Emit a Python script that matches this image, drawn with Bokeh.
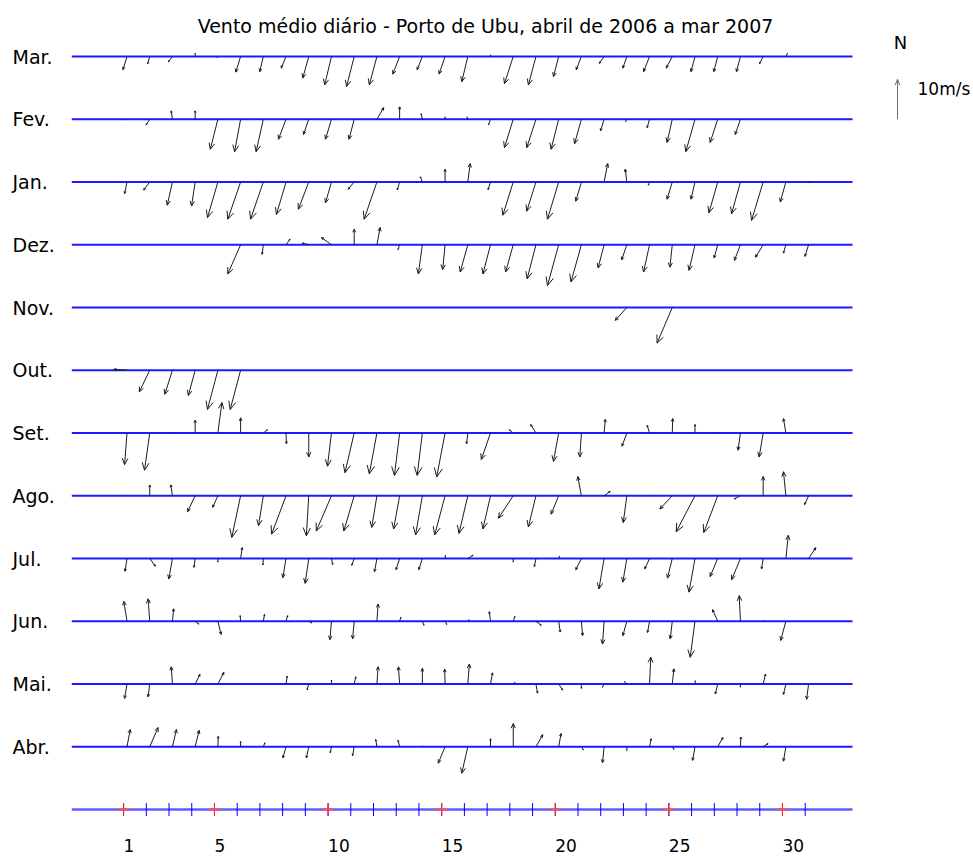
import numpy as np
from bokeh.plotting import figure
from bokeh.models import Range1d
from bokeh.embed import file_html
from bokeh.resources import INLINE
from bokeh.core.properties import value

# ---------------------------------------------------------------------------
# Daily mean wind at Porto de Ubu, u (east) and v (north) components in m/s.
# None = no record for that day.
# ---------------------------------------------------------------------------
N_ = None

abr_u = [0.8, 2.1, 1.0, 1.0, 0.1, 0.0, 0.4, -0.8, -0.6, -0.3, -0.4, -0.3, -0.4, 0.0, -1.7, -1.5,
         0.0, 0.0, 1.7, 0.6, 0.5, -0.4, 0.0, 0.4, 0.4, -0.6, 1.3, 0.1, 1.2, -0.6, N_]
abr_v = [4.3, 4.8, 4.3, 4.1, 2.6, 1.3, 1.0, -2.8, -2.8, -1.5, -2.2, 1.8, 1.6, 0.2, -4.1, -6.6,
         2.0, 5.8, 3.0, 3.3, -0.8, -4.0, -0.9, 2.0, -0.7, -3.4, 2.3, 2.4, 0.8, -3.6, N_]

mai_u = [-0.6, -0.4, -0.3, 1.2, 1.5, N_, N_, 0.3, -0.4, 0.0, 0.4, 0.3, -0.3, 0.0, -0.1, 0.4,
         0.5, 0.4, 0.4, 1.0, 0.0, -0.4, -0.6, 0.3, 0.4, 0.1, -0.6, 0.0, 0.6, -0.6, -0.5]
mai_v = [-3.6, -3.2, 4.3, 2.4, 2.9, N_, N_, 2.0, -1.5, 1.0, 1.8, 4.3, 4.3, 3.9, 3.7, 5.0,
         2.8, 0.4, -2.3, -1.5, -1.1, -0.8, 0.6, 6.7, 3.8, 0.8, -2.5, -0.8, 2.5, -2.6, -3.8]

jun_u = [-0.8, -0.4, 0.3, 0.9, 0.8, -0.1, 0.3, 0.4, 0.8, -0.4, -0.4, 0.3, 0.3, 0.4, 0.4, 0.3,
         -0.3, 0.4, 1.3, 0.4, 0.3, -0.4, -1.0, -0.5, -0.5, -1.2, -1.3, -0.3, 0.1, -1.3, N_]
jun_v = [5.0, 5.6, 3.1, -0.7, -3.3, 1.4, 1.7, 1.4, -0.4, -4.6, -4.4, 4.3, 1.0, -1.0, -0.8, 0.4,
         2.4, 1.2, -1.0, -2.7, -3.6, -5.7, -3.6, -2.8, -4.4, -9.0, 2.9, 6.4, 0.2, -4.8, N_]

jul_u = [-0.5, 1.4, -0.9, -0.3, 0.0, 0.4, -0.1, -0.8, -0.9, 0.3, -0.6, -0.6, -0.9, -0.9, 0.1, 1.3,
         N_, 0.0, -0.4, 0.2, -1.4, -1.3, -1.0, -1.2, -1.2, -1.5, -1.9, -2.2, -0.4, 0.6, 1.8]
jul_v = [-3.2, -1.9, -5.1, -2.2, -0.9, 2.7, -1.6, -4.8, -6.2, -1.5, -1.7, -3.3, -2.8, -2.8, 0.8, 0.8,
         N_, -0.9, -2.0, 0.6, -2.8, -7.6, -5.9, -2.6, -4.9, -8.4, -4.5, -5.3, -2.6, 5.8, 2.7]

ago_u = [0.0, 0.0, -0.4, -1.9, -1.3, -2.2, -1.2, -3.6, -0.6, -3.8, -2.6, -1.3, -1.5, -1.7, -2.6, -2.2,
         -1.9, -3.7, -1.9, -1.9, -0.9, 1.5, -0.9, 0.0, -3.1, -4.7, -3.5, -1.5, 0.0, -0.6, -1.0]
ago_v = [0.1, 2.7, 2.7, -4.0, -2.9, -10.4, -7.5, -9.6, -10.0, -8.8, -8.8, -7.9, -8.3, -9.8, -9.8, -9.4,
         -8.3, -5.6, -7.8, -4.6, 4.8, 1.1, -6.7, 0.1, -3.3, -9.0, -9.2, -0.8, 4.8, 6.0, -2.2]

set_u = [-0.6, -1.3, 0.0, 0.0, 1.0, 0.0, 1.0, 0.1, 0.0, -1.0, -2.3, -1.9, -1.3, -1.3, -2.1, -0.3,
         -2.3, -1.0, -1.3, -1.3, -0.4, 0.3, -1.2, -0.6, 0.1, 0.0, -0.2, -0.6, -1.0, -0.6, N_]
set_v = [-7.9, -9.3, 0.2, 3.2, 7.6, 3.8, 0.8, -2.7, -6.0, -8.3, -9.9, -10.2, -10.6, -10.6, -11.0, -2.7,
         -6.6, 0.8, 2.1, -7.1, -6.0, 3.4, -3.3, 1.9, 3.6, 2.1, 0.2, -4.3, -6.0, 3.6, N_]

out_u = [-3.3, -2.6, -1.9, -1.7, -2.6, -2.6] + [N_] * 25
out_v = [0.2, -5.4, -6.0, -6.3, -9.8, -9.8] + [N_] * 25

nov_u = [N_] * 22 + [-2.9, N_, -3.8] + [N_] * 6
nov_v = [N_] * 22 + [-3.2, N_, -8.9] + [N_] * 6

dez_u = [N_] * 5 + [-3.2, -0.3, 1.0, -1.6, -2.5, 0.0, 0.8, -0.4, -1.0, -0.6, -1.9, -1.9, -1.9, -2.2,
                    -2.8, -2.6, -1.5, -1.3, -1.5, -0.6, -1.5, -0.9, -1.5, -1.9, -0.6, -0.9]
dez_v = [N_] * 5 + [-7.3, -2.4, 1.4, 0.4, 1.8, 3.9, 4.3, -1.2, -7.3, -6.2, -6.8, -7.3, -6.8, -8.5,
                    -10.2, -9.3, -5.8, -3.8, -6.8, -5.6, -6.4, -3.3, -3.9, -3.1, -2.1, -2.9]

jan_u = [-0.6, -1.5, -1.3, -0.9, -2.6, -3.2, -3.2, -2.4, -2.6, -1.5, -1.5, -3.2, -0.6, -0.5, 0.0, 0.6,
         -0.6, -2.6, -2.3, -2.8, -1.4, 0.9, -0.4, -0.3, -1.3, -1.0, -2.2, -2.2, -2.9, -1.4, 0.5]
jan_v = [-2.9, -2.0, -5.8, -6.0, -8.9, -9.3, -9.3, -8.1, -6.8, -5.2, -1.8, -9.3, -2.0, 1.3, 3.2, 4.6,
         -1.9, -8.3, -7.3, -9.3, -4.8, 4.6, 3.2, -0.8, -4.3, -4.3, -7.7, -7.9, -9.6, -5.0, 0.1]

fev_u = [0.0, -0.9, -0.3, 0.0, -1.9, -1.5, -1.8, -1.9, -1.3, -1.5, -1.3, 1.7, 0.0, -0.3, 0.0, -0.2,
         -0.5, -2.2, -2.3, -1.9, -1.7, -0.9, -0.3, -0.6, -1.3, -2.3, -1.9, -1.3, N_, N_, N_]
fev_v = [-0.2, -1.4, 2.1, 2.1, -7.5, -8.1, -8.1, -5.0, -3.8, -5.0, -5.0, 2.9, 3.1, 1.4, 0.6, 0.6,
         -1.4, -7.1, -7.1, -7.5, -6.1, -2.9, -0.6, -2.1, -5.8, -8.1, -5.8, -3.8, N_, N_, N_]

mar_u = [-1.0, -0.5, -1.0, 0.0, -0.2, -1.2, -0.9, -1.2, -1.5, -1.7, -1.9, -1.9, -1.7, -1.3, -1.5, -1.5,
         0.0, -2.2, -1.9, -1.3, -1.3, -1.2, -1.0, -1.5, -1.5, -1.0, -1.0, -1.0, -0.9, 0.4, N_]
mar_v = [-3.3, -1.8, -1.3, 0.8, -0.3, -3.9, -3.8, -2.9, -5.4, -7.1, -7.5, -7.1, -4.4, -3.3, -4.4, -6.3,
         0.4, -6.8, -7.1, -5.0, -3.3, -1.7, -2.9, -3.8, -2.9, -3.8, -3.8, -3.8, -1.8, 0.8, N_]

# bottom to top
month_labels = ["Abr.", "Mai.", "Jun.", "Jul.", "Ago.", "Set.",
                "Out.", "Nov.", "Dez.", "Jan.", "Fev.", "Mar."]
month_u = [abr_u, mai_u, jun_u, jul_u, ago_u, set_u, out_u, nov_u, dez_u, jan_u, fev_u, mar_u]
month_v = [abr_v, mai_v, jun_v, jul_v, ago_v, set_v, out_v, nov_v, dez_v, jan_v, fev_v, mar_v]

days = list(range(1, 32))
tick_days = list(range(1, 32))
major_days = [1, 5, 10, 15, 20, 25, 30]
major_labels = ["1", "5", "10", "15", "20", "25", "30"]

legend_speed = 10.0  # m/s
TITLE = "Vento médio diário - Porto de Ubu, abril de 2006 a mar 2007"

# ---------------------------------------------------------------------------
# Geometry: x in days, y in the same (isotropic) unit so arrows keep their angle
# ---------------------------------------------------------------------------
W, H = 973, 857
PX_PER_DAY = 22.72
DAY1_PX = 126.5           # screen x of day 1
AXIS_ROW_PX = 809.0       # screen y of the day-scale row
ROW_GAP = 62.75 / PX_PER_DAY
SCALE = 4.0 / PX_PER_DAY  # plot units per m/s
TICK_SHIFT = 0.15


def sx(px):
    return 1 + (px - DAY1_PX) / PX_PER_DAY


def sy(py):
    return (AXIS_ROW_PX - py) / PX_PER_DAY


p = figure(width=W, height=H, output_backend="svg", toolbar_location=None,
           x_range=Range1d(sx(0), sx(W)), y_range=Range1d(sy(H), sy(0)),
           x_axis_location=None, y_axis_location=None, min_border=0)
p.grid.visible = False
p.outline_line_color = None
p.background_fill_color = "white"
p.border_fill_color = "white"

X0, X1 = sx(71.3), sx(852.0)
row_y = [ROW_GAP * (k + 1) for k in range(len(month_labels))]

# month base lines
p.segment(x0=[X0] * len(row_y), x1=[X1] * len(row_y), y0=row_y, y1=row_y,
          line_color="#1a1aff", line_width=2)


def arrows(bx, by, u, v, head=0.2, half=0.09):
    """Shaft plus two open-head wings for each vector."""
    x0, y0, x1, y1 = [], [], [], []
    for xb, yb, uu, vv in zip(bx, by, u, v):
        if uu is None or vv is None:
            continue
        dx, dy = uu * SCALE, vv * SCALE
        L = np.hypot(dx, dy)
        if L == 0:
            continue
        tx, ty = xb + dx, yb + dy
        ex, ey = dx / L, dy / L
        x0.append(xb); y0.append(yb); x1.append(tx); y1.append(ty)
        hx, hy = tx - head * L * ex, ty - head * L * ey
        for s in (1, -1):
            x0.append(tx); y0.append(ty)
            x1.append(hx - s * half * L * ey); y1.append(hy + s * half * L * ex)
    return dict(x0=x0, y0=y0, x1=x1, y1=y1)


ax0, ay0, ax1, ay1 = [], [], [], []
for yk, uu, vv in zip(row_y, month_u, month_v):
    a = arrows(days, [yk] * len(days), uu, vv)
    ax0 += a["x0"]; ay0 += a["y0"]; ax1 += a["x1"]; ay1 += a["y1"]
p.segment(x0=ax0, y0=ay0, x1=ax1, y1=ay1, line_color="#1c1c1c", line_width=1)

# month labels
p.text(x=[sx(12)] * len(row_y), y=row_y, text=month_labels,
       text_font=value("DejaVu Sans"), text_font_size=value("19px"),
       text_align="left", text_baseline="middle", text_color="black")

# day scale row
p.segment(x0=[X0], x1=[X1], y0=[0], y1=[0], line_color="#5c5cff", line_width=2.5)
tk = [d - TICK_SHIFT for d in tick_days]
th = 6.5 / PX_PER_DAY
p.segment(x0=tk, x1=tk, y0=[-th] * len(tk), y1=[th] * len(tk), line_color="#0000ff", line_width=1)
mk = [d - TICK_SHIFT for d in major_days]
hw = 6.0 / PX_PER_DAY
p.segment(x0=mk, x1=mk, y0=[-th] * len(mk), y1=[th] * len(mk), line_color="#ff2020", line_width=1)
p.segment(x0=[m - hw for m in mk], x1=[m + hw for m in mk], y0=[0] * len(mk), y1=[0] * len(mk),
          line_color="#ff5050", line_width=2)
p.text(x=mk, y=[sy(845)] * len(mk), text=major_labels,
       text_font=value("DejaVu Sans"), text_font_size=value("17px"),
       text_align="left", text_baseline="middle", text_color="black")

# title
p.text(x=[sx(485)], y=[sy(25)], text=[TITLE],
       text_font=value("DejaVu Sans"), text_font_size=value("19px"),
       text_align="center", text_baseline="middle", text_color="black")

# north / scale key
kx, ky = sx(897), row_y[10]
key = arrows([kx], [ky], [0.0], [legend_speed], head=0.15, half=0.06)
p.segment(x0=key["x0"], y0=key["y0"], x1=key["x1"], y1=key["y1"], line_color="#6e6e6e", line_width=1)
p.text(x=[sx(900)], y=[sy(42)], text=["N"],
       text_font=value("DejaVu Sans"), text_font_size=value("18px"),
       text_align="center", text_baseline="middle", text_color="black")
p.text(x=[sx(917)], y=[sy(88)], text=["10m/s"],
       text_font=value("DejaVu Sans"), text_font_size=value("17px"),
       text_align="left", text_baseline="middle", text_color="black")

open("out.html", "w").write(file_html(p, INLINE))
